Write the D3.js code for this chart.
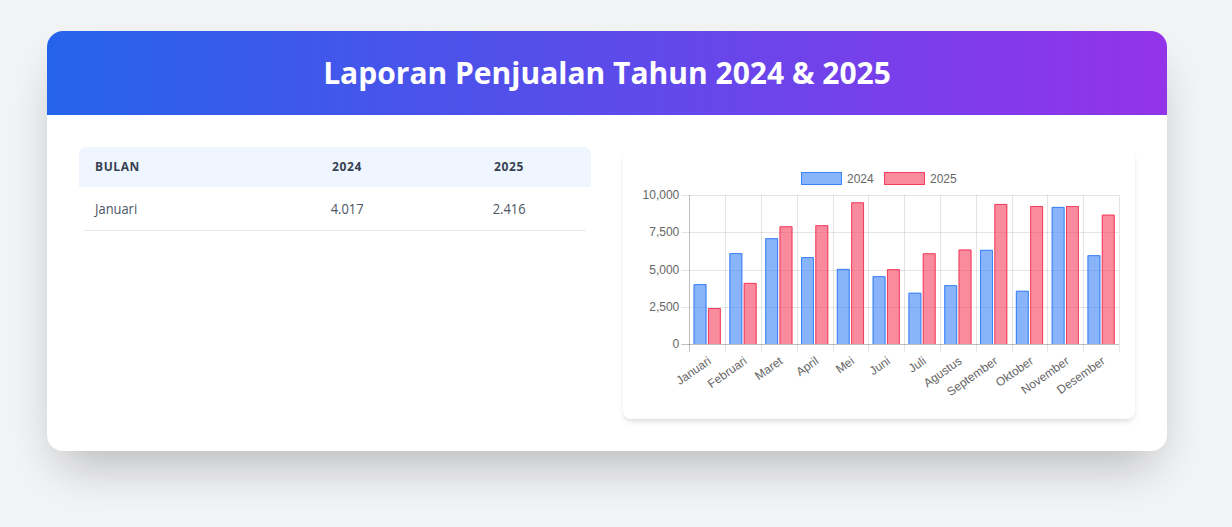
<!DOCTYPE html>
<html>
<head>
<meta charset="utf-8">
<script src="https://cdn.jsdelivr.net/npm/d3@7"></script>
<style>
  html, body { margin:0; padding:0; }
  body { width:1232px; height:527px; background:#f3f4f6; position:relative; overflow:hidden; font-family:"Open Sans", sans-serif; }
  .card { position:absolute; left:47px; top:31px; width:1120px; height:420px; background:#fff; border-radius:16px;
          box-shadow:0 25px 50px -12px rgba(0,0,0,0.25); overflow:hidden; }
  .head { position:absolute; left:0; top:0; width:1120px; height:84px; background:linear-gradient(90deg,#2563eb,#9333ea); }
  .head h1 { margin:0; line-height:84px; text-align:center; color:#fff; font-size:30px; font-weight:700; font-family:"Open Sans", sans-serif; }
  .tbl { position:absolute; left:32px; top:116px; width:512px; font-family:"Open Sans", sans-serif; }
  .thead { height:40px; background:#eff6ff; border-radius:8px 8px 0 0; position:relative; }
  .th { position:absolute; top:0; line-height:40px; font-size:12px; font-weight:700; color:#374151; letter-spacing:0.05em; }
  .row { height:44px; position:relative; }
  .td { position:absolute; top:-1px; line-height:44px; font-size:15px; color:#4b5563; }
  .td span { display:inline-block; transform:scaleX(0.86); }
  .line { position:absolute; left:5px; right:5px; bottom:0; height:1px; background:#e5e7eb; }
  .chartcard { position:absolute; left:576px; top:119px; width:512px; height:269px; background:#fff; border-radius:8px;
               box-shadow:0 4px 6px -1px rgba(0,0,0,0.1), 0 2px 4px -2px rgba(0,0,0,0.08); }
  svg text { font-family:"Liberation Sans", Arial, sans-serif; }
</style>
</head>
<body>
<div class="card">
  <div class="head"><h1>Laporan Penjualan Tahun 2024 &amp; 2025</h1></div>
  <div class="tbl" id="tbl"></div>
  <div class="chartcard"><svg id="chart" width="512" height="269"></svg></div>
</div>
<script>
const months = ["Januari","Februari","Maret","April","Mei","Juni","Juli","Agustus","September","Oktober","November","Desember"];
const series = ["2024","2025"];
const sales2024 = [4017,6100,7100,5830,5040,4550,3440,3950,6320,3570,9200,5960];
const sales2025 = [2416,4100,7900,7970,9510,5020,6090,6340,9400,9260,9260,8680];
const yTicks = [0,2500,5000,7500,10000];
const tableHeaders = ["BULAN","2024","2025"];
const tableRows = [["Januari","4.017","2.416"]];

const fill = {"2024":"rgba(59,130,246,0.6)","2025":"rgba(244,63,94,0.6)"};
const stroke = {"2024":"rgb(59,130,246)","2025":"rgb(244,63,94)"};

// table
const tbl = d3.select("#tbl");
const colPos = [{x:16},{x:268},{x:430}];
const th = tbl.append("div").attr("class","thead");
tableHeaders.forEach((h,i)=>{
  const d = th.append("div").attr("class","th").text(h);
  if (i===0) d.style("left",colPos[i].x+"px");
  else d.style("left",(colPos[i].x-40)+"px").style("width","80px").style("text-align","center");
});
tableRows.forEach(r=>{
  const row = tbl.append("div").attr("class","row");
  r.forEach((c,i)=>{
    const d = row.append("div").attr("class","td");
    const s = d.append("span").text(c);
    if (i===0) { d.style("left",colPos[i].x+"px"); s.style("transform-origin","left center"); }
    else { d.style("left",(colPos[i].x-40)+"px").style("width","80px").style("text-align","center"); s.style("transform-origin","center center"); }
  });
  row.append("div").attr("class","line");
});

// chart
const svg = d3.select("#chart");
const X0 = 66.3, X1 = 496, YT = 45, YB = 194;
const x = d3.scaleBand().domain(months).range([X0,X1]).paddingInner(0).paddingOuter(0);
const bw = x.bandwidth();
const xs = d3.scaleBand().domain(series).range([0.1*bw,0.9*bw]).paddingInner(0.1).paddingOuter(0.05);
const y = d3.scaleLinear().domain([0,10000]).range([YB,YT]);

const grid = svg.append("g");
yTicks.forEach(t=>{
  grid.append("line").attr("x1",X0-8).attr("x2",X1).attr("y1",Math.round(y(t))+0.5).attr("y2",Math.round(y(t))+0.5)
    .attr("stroke", t===0 ? "rgba(0,0,0,0.25)" : "rgba(0,0,0,0.1)");
});
const vx = months.map(m=>x(m)).concat([X1]);
vx.forEach((vxi,i)=>{
  grid.append("line").attr("x1",Math.round(vxi)+0.5).attr("x2",Math.round(vxi)+0.5).attr("y1",YT).attr("y2",YB+8)
    .attr("stroke", i===0 ? "rgba(0,0,0,0.25)" : "rgba(0,0,0,0.1)");
});

svg.append("g").selectAll("text").data(yTicks).join("text")
  .attr("x",X0-10).attr("y",d=>y(d)).attr("dy","0.35em").attr("text-anchor","end")
  .attr("font-size",12).attr("fill","#666").text(d3.format(","));

const data = [];
months.forEach((m,i)=>{
  data.push({m, s:"2024", v:sales2024[i]});
  data.push({m, s:"2025", v:sales2025[i]});
});
const bars = svg.append("g").selectAll("g").data(data).join("g");
bars.append("rect")
  .attr("x",d=>x(d.m)+xs(d.s)).attr("width",xs.bandwidth())
  .attr("y",d=>y(d.v)).attr("height",d=>YB-y(d.v))
  .attr("fill",d=>fill[d.s]);
bars.append("path")
  .attr("d",d=>{
    const l=x(d.m)+xs(d.s)+0.5, r=x(d.m)+xs(d.s)+xs.bandwidth()-0.5, t=y(d.v)+0.5;
    return `M${l},${YB}V${t}H${r}V${YB}`;
  })
  .attr("fill","none").attr("stroke",d=>stroke[d.s]).attr("stroke-width",1);

svg.append("g").selectAll("text").data(months).join("text")
  .attr("transform",d=>`translate(${x(d)+bw/2+2.5},${209.5}) rotate(-35)`)
  .attr("text-anchor","end").attr("dominant-baseline","central")
  .attr("font-size",12).attr("fill","#666").text(d=>d);

const legX = [178, 261];
const lg = svg.append("g").selectAll("g").data(series).join("g")
  .attr("transform",(d,i)=>`translate(${legX[i]},22)`);
lg.append("rect").attr("x",0.5).attr("y",0.5).attr("width",40).attr("height",12)
  .attr("fill",d=>fill[d]).attr("stroke",d=>stroke[d]).attr("stroke-width",1);
lg.append("text").attr("x",46).attr("y",6.5).attr("dy","0.35em").attr("font-size",12).attr("fill","#666").text(d=>d);
</script>
</body>
</html>
